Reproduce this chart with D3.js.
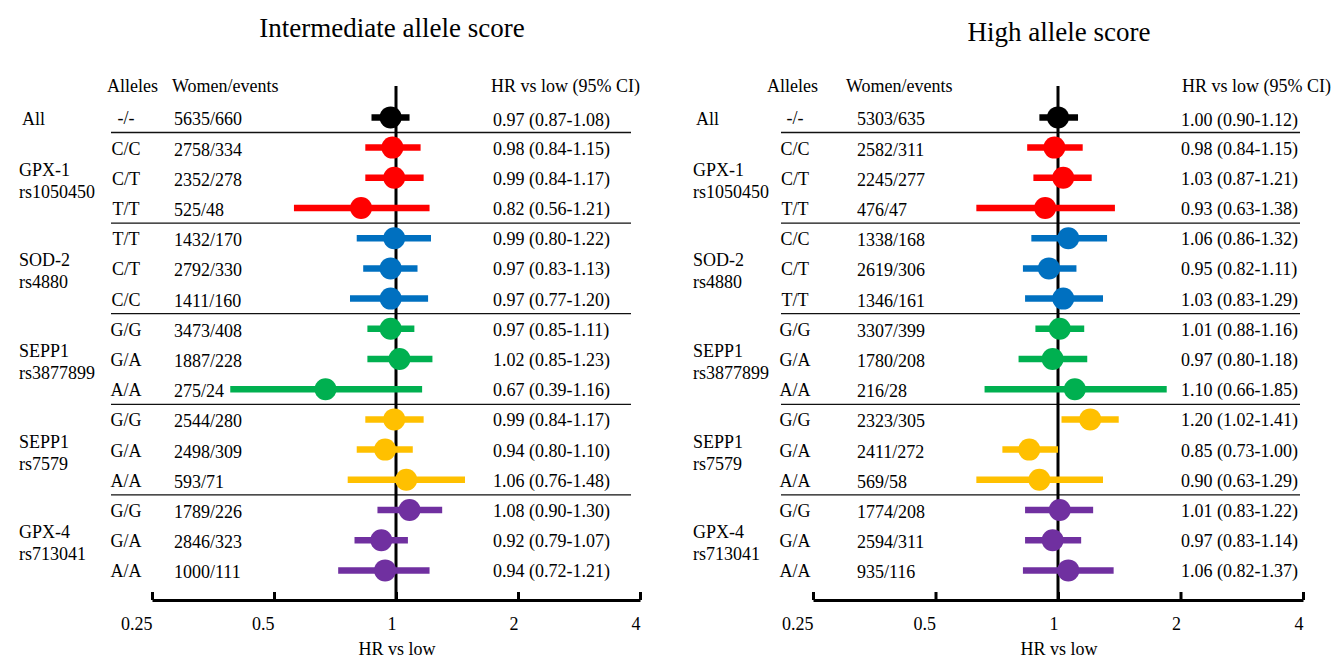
<!DOCTYPE html>
<html>
<head>
<meta charset="utf-8">
<script src="https://cdn.jsdelivr.net/npm/d3@7"></script>
<style>
  body { margin: 0; background: #ffffff; }
  svg { display: block; font-family: "Liberation Serif", "Times New Roman", serif; }
</style>
</head>
<body>
<script>
// Groups (genes / SNPs), one colour each.
const groupNames = [["All"], ["GPX-1", "rs1050450"], ["SOD-2", "rs4880"], ["SEPP1", "rs3877899"], ["SEPP1", "rs7579"], ["GPX-4", "rs713041"]];
const groupColors = ["#000000", "#ff0000", "#0070c0", "#00b050", "#ffc000", "#7030a0"];
const rowGroup = [0, 1, 1, 1, 2, 2, 2, 3, 3, 3, 4, 4, 4, 5, 5, 5];

// Intermediate allele score.
const interAlleles = ["-/-", "C/C", "C/T", "T/T", "T/T", "C/T", "C/C", "G/G", "G/A", "A/A", "G/G", "G/A", "A/A", "G/G", "G/A", "A/A"];
const interCounts = ["5635/660", "2758/334", "2352/278", "525/48", "1432/170", "2792/330", "1411/160", "3473/408", "1887/228", "275/24", "2544/280", "2498/309", "593/71", "1789/226", "2846/323", "1000/111"];
const interHR = [0.97, 0.98, 0.99, 0.82, 0.99, 0.97, 0.97, 0.97, 1.02, 0.67, 0.99, 0.94, 1.06, 1.08, 0.92, 0.94];
const interLo = [0.87, 0.84, 0.84, 0.56, 0.80, 0.83, 0.77, 0.85, 0.85, 0.39, 0.84, 0.80, 0.76, 0.90, 0.79, 0.72];
const interHi = [1.08, 1.15, 1.17, 1.21, 1.22, 1.13, 1.20, 1.11, 1.23, 1.16, 1.17, 1.10, 1.48, 1.30, 1.07, 1.21];

// High allele score.
const highAlleles = ["-/-", "C/C", "C/T", "T/T", "C/C", "C/T", "T/T", "G/G", "G/A", "A/A", "G/G", "G/A", "A/A", "G/G", "G/A", "A/A"];
const highCounts = ["5303/635", "2582/311", "2245/277", "476/47", "1338/168", "2619/306", "1346/161", "3307/399", "1780/208", "216/28", "2323/305", "2411/272", "569/58", "1774/208", "2594/311", "935/116"];
const highHR = [1.00, 0.98, 1.03, 0.93, 1.06, 0.95, 1.03, 1.01, 0.97, 1.10, 1.20, 0.85, 0.90, 1.01, 0.97, 1.06];
const highLo = [0.90, 0.84, 0.87, 0.63, 0.86, 0.82, 0.83, 0.88, 0.80, 0.66, 1.02, 0.73, 0.63, 0.83, 0.83, 0.82];
const highHi = [1.12, 1.15, 1.21, 1.38, 1.32, 1.11, 1.29, 1.16, 1.18, 1.85, 1.41, 1.00, 1.29, 1.22, 1.14, 1.37];

// Axis ticks.
const tickValues = [0.25, 0.5, 1, 2, 4];
const tickLabels = ["0.25", "0.5", "1", "2", "4"];

// Panel layouts.
const panels = [
  {title: "Intermediate allele score", titleX: 392, titleY: 37,
   alleles: interAlleles, counts: interCounts, hr: interHR, lo: interLo, hi: interHi,
   range: [152, 640], groupX: 19, alleleHeadX: 107, alleleX: 126, countHeadX: 172, countX: 174,
   hrHeadX: 491, hrX: 493, sepX: [111, 631]},
  {title: "High allele score", titleX: 1059, titleY: 41,
   alleles: highAlleles, counts: highCounts, hr: highHR, lo: highLo, hi: highHi,
   range: [813, 1303], groupX: 693, alleleHeadX: 767, alleleX: 795, countHeadX: 846, countX: 857,
   hrHeadX: 1182, hrX: 1181, sepX: [781, 1300]}
];

const width = 1334, height = 660;
const axisY = 600;
const headY = 92;
const fontSize = 18;

const svg = d3.select('body')
  .append('svg')
  .attr('width', width)
  .attr('height', height);

const rowIdx = d3.range(rowGroup.length);
const y = d3.scalePoint()
  .domain(rowIdx)
  .range([117.4, 570.4]);

// Group boundaries (separator line positions).
const groupStarts = rowIdx.filter((i) => i > 0 && rowGroup[i] !== rowGroup[i - 1]);

panels.forEach((p) =>
{
  const x = d3.scaleLog()
    .base(2)
    .domain([0.25, 4])
    .range(p.range);

  const g = svg.append('g');

  // Title.
  g.append('text')
    .attr('x', p.titleX)
    .attr('y', p.titleY)
    .attr('text-anchor', 'middle')
    .style('font-size', '27px')
    .text(p.title);

  // Column headers.
  const headers = [
    {t: 'Alleles', x: p.alleleHeadX},
    {t: 'Women/events', x: p.countHeadX},
    {t: 'HR vs low (95% CI)', x: p.hrHeadX}
  ];
  g.selectAll('text.head')
    .data(headers)
    .enter()
    .append('text')
    .attr('class', 'head')
    .attr('x', (d) => d.x)
    .attr('y', headY)
    .style('font-size', fontSize + 'px')
    .text((d) => d.t);

  // Separators between groups.
  g.selectAll('line.sep')
    .data(groupStarts)
    .enter()
    .append('line')
    .attr('class', 'sep')
    .attr('x1', p.sepX[0])
    .attr('x2', p.sepX[1])
    .attr('y1', (i) => (y(i) + y(i - 1)) / 2)
    .attr('y2', (i) => (y(i) + y(i - 1)) / 2)
    .style('stroke', '#111')
    .style('stroke-width', 1.3);

  // Group labels.
  groupNames.forEach((names, gi) =>
  {
    const rows = rowIdx.filter((i) => rowGroup[i] === gi);
    const gc = (y(rows[0]) + y(rows[rows.length - 1])) / 2;
    const t = g.append('text')
      .attr('x', p.groupX)
      .style('font-size', fontSize + 'px');
    if (names.length === 1)
    {
      t.attr('x', p.groupX + 3).attr('y', gc + 8).text(names[0]);
    }
    else
    {
      t.selectAll('tspan')
        .data(names)
        .enter()
        .append('tspan')
        .attr('x', p.groupX)
        .attr('y', (d, k) => gc - 2 + k * 22)
        .text((d) => d);
    }
  });

  // Row texts.
  g.selectAll('text.allele')
    .data(rowIdx)
    .enter()
    .append('text')
    .attr('class', 'allele')
    .attr('x', p.alleleX)
    .attr('y', (i) => y(i) + 7)
    .attr('text-anchor', 'middle')
    .style('font-size', fontSize + 'px')
    .text((i) => p.alleles[i]);

  g.selectAll('text.count')
    .data(rowIdx)
    .enter()
    .append('text')
    .attr('class', 'count')
    .attr('x', p.countX)
    .attr('y', (i) => y(i) + 8)
    .style('font-size', fontSize + 'px')
    .text((i) => p.counts[i]);

  g.selectAll('text.hr')
    .data(rowIdx)
    .enter()
    .append('text')
    .attr('class', 'hr')
    .attr('x', p.hrX)
    .attr('y', (i) => y(i) + (i === 0 ? 9 : 7))
    .style('font-size', fontSize + 'px')
    .text((i) => p.hr[i].toFixed(2) + ' (' + p.lo[i].toFixed(2) + '-' + p.hi[i].toFixed(2) + ')');

  // Reference line at HR = 1.
  g.append('line')
    .attr('x1', x(1))
    .attr('x2', x(1))
    .attr('y1', 86)
    .attr('y2', axisY)
    .style('stroke', '#000')
    .style('stroke-width', 3);

  // CI lines and dots.
  g.selectAll('line.ci')
    .data(rowIdx)
    .enter()
    .append('line')
    .attr('class', 'ci')
    .attr('x1', (i) => x(p.lo[i]))
    .attr('x2', (i) => x(p.hi[i]))
    .attr('y1', (i) => y(i))
    .attr('y2', (i) => y(i))
    .style('stroke', (i) => groupColors[rowGroup[i]])
    .style('stroke-width', 6.5);

  g.selectAll('circle.hr')
    .data(rowIdx)
    .enter()
    .append('circle')
    .attr('class', 'hr')
    .attr('cx', (i) => x(p.hr[i]))
    .attr('cy', (i) => y(i))
    .attr('r', 11)
    .style('fill', (i) => groupColors[rowGroup[i]]);

  // Axis.
  const axis = d3.axisBottom(x)
    .tickValues(tickValues)
    .tickFormat((d, k) => tickLabels[k])
    .tickSizeInner(-8)
    .tickSizeOuter(0);

  const ax = g.append('g')
    .attr('transform', 'translate(0,' + axisY + ')')
    .call(axis);
  ax.select('.domain')
    .style('stroke', '#000')
    .style('stroke-width', 3);
  ax.selectAll('.tick line')
    .style('stroke', '#000')
    .style('stroke-width', 3);
  ax.selectAll('.tick text')
    .attr('y', 30)
    .attr('dy', 0)
    .attr('text-anchor', 'end')
    .attr('fill', '#000')
    .style('font-family', '"Liberation Serif", serif')
    .style('font-size', fontSize + 'px');

  g.append('text')
    .attr('x', x(1) + 1)
    .attr('y', 655)
    .attr('text-anchor', 'middle')
    .style('font-size', fontSize + 'px')
    .text('HR vs low');
});
</script>
</body>
</html>
